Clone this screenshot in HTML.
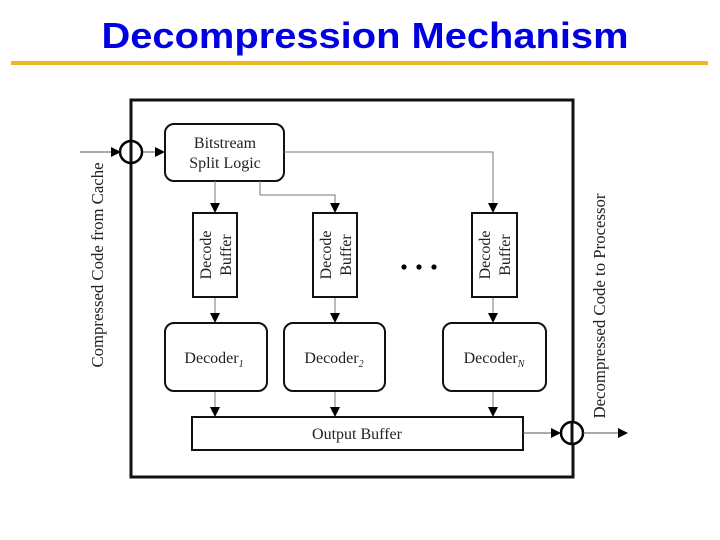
<!DOCTYPE html>
<html><head><meta charset="utf-8"><style>
html,body{margin:0;padding:0;background:#fff;}
svg{display:block;}
.t{font-family:"Liberation Serif",serif;fill:#222;}
</style></head><body>
<svg width="720" height="540" viewBox="0 0 720 540" xmlns="http://www.w3.org/2000/svg">
<defs>
<marker id="a" markerWidth="10" markerHeight="10" refX="9" refY="5" orient="auto" markerUnits="userSpaceOnUse">
<path d="M0,0 L10,5 L0,10 z" fill="#000"/></marker>
</defs>
<text x="365" y="48" text-anchor="middle" font-family="Liberation Sans,sans-serif" font-weight="bold" font-size="36" fill="#0000e0" textLength="527" lengthAdjust="spacingAndGlyphs">Decompression Mechanism</text>
<rect x="11" y="61" width="697" height="4" fill="#f0b820"/>

<rect x="131" y="100" width="442" height="377" fill="none" stroke="#111" stroke-width="3"/>

<!-- input -->
<line x1="80" y1="152" x2="120" y2="152" stroke="#555" stroke-width="1" marker-end="url(#a)"/>
<circle cx="131" cy="152" r="11" fill="#fff" stroke="#000" stroke-width="2.5"/>
<line x1="131" y1="141" x2="131" y2="163" stroke="#111" stroke-width="3"/>
<line x1="143" y1="152" x2="164" y2="152" stroke="#555" stroke-width="1" marker-end="url(#a)"/>

<rect x="165" y="124" width="119" height="57" rx="9" fill="#fff" stroke="#111" stroke-width="2"/>
<text class="t" x="225" y="148" text-anchor="middle" font-size="16">Bitstream</text>
<text class="t" x="225" y="168" text-anchor="middle" font-size="16">Split Logic</text>

<g stroke="#777" stroke-width="1" fill="none">
<polyline points="284,152 493,152 493,212" marker-end="url(#a)"/>
<polyline points="260,181 260,195 335,195 335,212" marker-end="url(#a)"/>
<line x1="215" y1="181" x2="215" y2="212" marker-end="url(#a)"/>
<line x1="215" y1="297" x2="215" y2="322" marker-end="url(#a)"/>
<line x1="335" y1="297" x2="335" y2="322" marker-end="url(#a)"/>
<line x1="493" y1="297" x2="493" y2="322" marker-end="url(#a)"/>
<line x1="215" y1="391" x2="215" y2="416" marker-end="url(#a)"/>
<line x1="335" y1="391" x2="335" y2="416" marker-end="url(#a)"/>
<line x1="493" y1="391" x2="493" y2="416" marker-end="url(#a)"/>
</g>

<g fill="#fff" stroke="#111" stroke-width="2">
<rect x="193" y="213" width="44" height="84"/>
<rect x="313" y="213" width="44" height="84"/>
<rect x="472" y="213" width="45" height="84"/>
</g>
<g class="t" font-size="16" text-anchor="middle">
<text transform="translate(211,255) rotate(-90)">Decode</text>
<text transform="translate(231,255) rotate(-90)">Buffer</text>
<text transform="translate(331,255) rotate(-90)">Decode</text>
<text transform="translate(351,255) rotate(-90)">Buffer</text>
<text transform="translate(490,255) rotate(-90)">Decode</text>
<text transform="translate(510,255) rotate(-90)">Buffer</text>
</g>
<circle cx="404" cy="267" r="2.6" fill="#000"/>
<circle cx="419" cy="267" r="2.6" fill="#000"/>
<circle cx="434" cy="267" r="2.6" fill="#000"/>

<g fill="#fff" stroke="#111" stroke-width="2">
<rect x="165" y="323" width="102" height="68" rx="9"/>
<rect x="284" y="323" width="101" height="68" rx="9"/>
<rect x="443" y="323" width="103" height="68" rx="9"/>
</g>
<text class="t" x="214" y="363" text-anchor="middle" font-size="16">Decoder<tspan font-size="10" font-style="italic" dy="4">1</tspan></text>
<text class="t" x="334" y="363" text-anchor="middle" font-size="16">Decoder<tspan font-size="10" font-style="italic" dy="4">2</tspan></text>
<text class="t" x="494" y="363" text-anchor="middle" font-size="16">Decoder<tspan font-size="10" font-style="italic" dy="4">N</tspan></text>

<rect x="192" y="417" width="331" height="33" fill="#fff" stroke="#111" stroke-width="2"/>
<text class="t" x="357" y="439" text-anchor="middle" font-size="16">Output Buffer</text>

<line x1="523" y1="433" x2="560" y2="433" stroke="#555" stroke-width="1" marker-end="url(#a)"/>
<circle cx="572" cy="433" r="11" fill="#fff" stroke="#000" stroke-width="2.5"/>
<line x1="572" y1="422" x2="572" y2="444" stroke="#111" stroke-width="3"/>
<line x1="583" y1="433" x2="627" y2="433" stroke="#555" stroke-width="1" marker-end="url(#a)"/>

<text class="t" transform="translate(103,265) rotate(-90)" text-anchor="middle" font-size="17" textLength="205" lengthAdjust="spacingAndGlyphs">Compressed Code from Cache</text>
<text class="t" transform="translate(605,306) rotate(-90)" text-anchor="middle" font-size="17" textLength="225" lengthAdjust="spacingAndGlyphs">Decompressed Code to Processor</text>
</svg>
</body></html>
